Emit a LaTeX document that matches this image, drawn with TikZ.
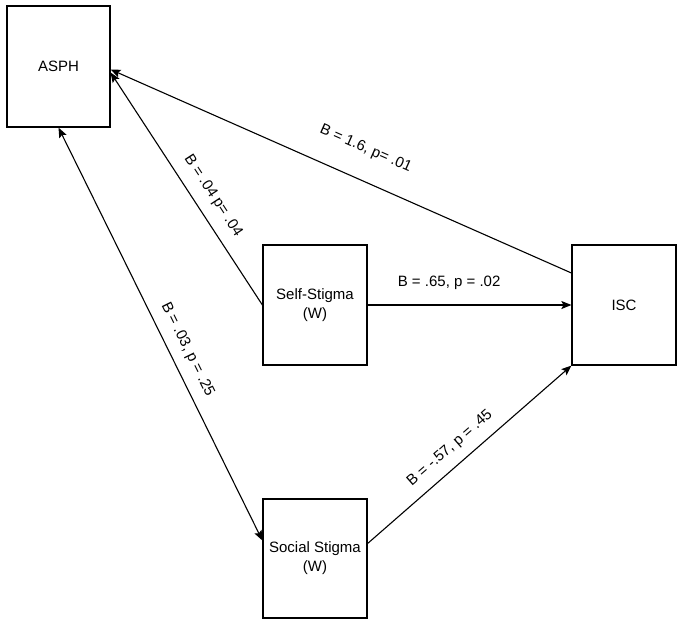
\documentclass[tikz,border=0pt]{standalone}
\usepackage{fontspec}
\setmainfont{Liberation Sans}
\usetikzlibrary{arrows.meta}
\begin{document}
\begin{tikzpicture}[x=1pt,y=-1pt,
  box/.style={draw, line width=1.2pt, minimum width=104pt, minimum height=120pt, inner sep=0pt, align=center, font=\fontsize{15}{19}\selectfont},
  tip/.style={Stealth[length=10pt,width=8pt,inset=2pt]},
  conn/.style={line width=1.1pt, -{Stealth[length=10pt,width=8pt,inset=2pt]}},
  lbl/.style={font=\fontsize{15}{18}\selectfont, inner sep=0pt, sloped}
]
\useasboundingbox (0,0) rectangle (682,625);
\node[box, minimum width=103pt, minimum height=121pt] (asph) at (58.5,66.5) {ASPH};
\node[box] (self) at (315,305) {Self-Stigma\\(W)};
\node[box] (isc) at (624,305) {ISC};
\node[box, minimum height=119pt] (social) at (315,558.5) {Social Stigma\\(W)};

\draw[conn] ([yshift=32pt]isc.west) -- node[lbl, pos=0.473, above=23pt]{B = 1.6, p= .01} ([yshift=-3pt]asph.east);
\draw[conn] (self.west) -- node[lbl, pos=0.427, above=11pt]{B = .04 p= .04} ([yshift=-6pt]asph.east);
\draw[conn] (self.east) -- node[lbl, pos=0.40, above=15pt]{B = .65, p = .02} (isc.west);
\draw[conn] ([yshift=15pt]social.east) -- node[lbl, pos=0.46, above=10pt]{B = -.57, p = .45} (isc.south west);
\draw[conn, {Stealth[length=10pt,width=8pt,inset=2pt]}-{Stealth[length=10pt,width=8pt,inset=2pt]}] (asph.south) -- node[lbl, pos=0.556, above=10pt]{B = .03, p = .25} ([yshift=18pt]social.west);
\end{tikzpicture}
\end{document}
